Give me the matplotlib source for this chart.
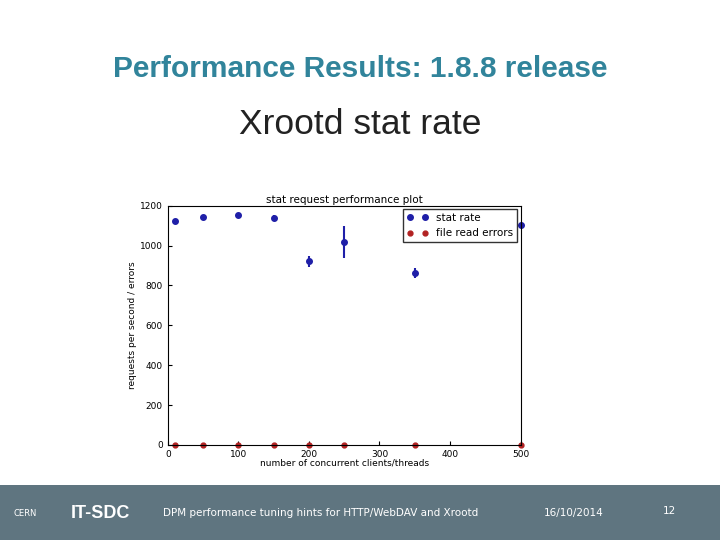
import matplotlib
matplotlib.use("Agg")
import matplotlib.pyplot as plt
from matplotlib.patches import Rectangle
from matplotlib.lines import Line2D

threads = [10, 50, 100, 150, 200, 250, 350, 500]
stat_rate = [1125, 1145, 1155, 1140, 922, 1020, 865, 1105]
stat_err = [5, 5, 5, 15, 28, 80, 25, 5]
read_errors = [0, 0, 0, 0, 0, 0, 0, 0]

fig = plt.figure(figsize=(7.2, 5.4), dpi=100)
fig.patch.set_facecolor("white")

fig.text(0.5, 0.873, "Performance Results: 1.8.8 release", ha="center", va="center",
         fontsize=21.5, color="#31849b", family="Liberation Sans", weight="bold")
fig.text(0.5, 0.77, "Xrootd stat rate", ha="center", va="center",
         fontsize=25.5, color="#222222", family="Liberation Sans")

blue = "#1f1fa8"
red = "#b22222"
ax = fig.add_axes([0.233, 0.176, 0.490, 0.443])
ax.errorbar(threads, stat_rate, yerr=stat_err, fmt="o", color=blue, ms=4,
            capsize=0, clip_on=False)
ax.plot(threads, read_errors, "o", color=red, ms=3.5, clip_on=False)
ax.set_xlim(0, 500)
ax.set_ylim(0, 1200)
ax.set_xticks([0, 100, 200, 300, 400, 500])
ax.set_yticks(range(0, 1201, 200))
ax.tick_params(labelsize=6.5, direction="in", length=3)
ax.set_title("stat request performance plot", fontsize=7.5, pad=2)
ax.set_xlabel("number of concurrent clients/threads", fontsize=6.5, labelpad=0)
ax.set_ylabel("requests per second / errors", fontsize=6.5, labelpad=2)
handles = [Line2D([], [], ls="none", marker="o", color=blue, ms=4),
           Line2D([], [], ls="none", marker="o", color=red, ms=3.5)]
ax.legend(handles, ["stat rate", "file read errors"], loc="upper right", fontsize=7.5,
          numpoints=2, frameon=True, fancybox=False, edgecolor="black", borderaxespad=0.3)

fig.add_artist(Rectangle((0, 0), 1, 55/540, transform=fig.transFigure,
                         facecolor="#5f7580", edgecolor="none"))
fig.text(0.035, 0.05, "CERN", color="white", fontsize=6, ha="center", va="center")
fig.text(0.14, 0.05, "IT-SDC", color="white", fontsize=13, weight="bold",
         ha="center", va="center", family="Liberation Sans")
fig.text(0.445, 0.05, "DPM performance tuning hints for HTTP/WebDAV and Xrootd", color="white",
         fontsize=7.5, ha="center", va="center")
fig.text(0.797, 0.05, "16/10/2014", color="white", fontsize=7.5, ha="center", va="center")
fig.text(0.93, 0.053, "12", color="white", fontsize=7.5, ha="center", va="center")

fig.savefig("out.png", dpi=100)
